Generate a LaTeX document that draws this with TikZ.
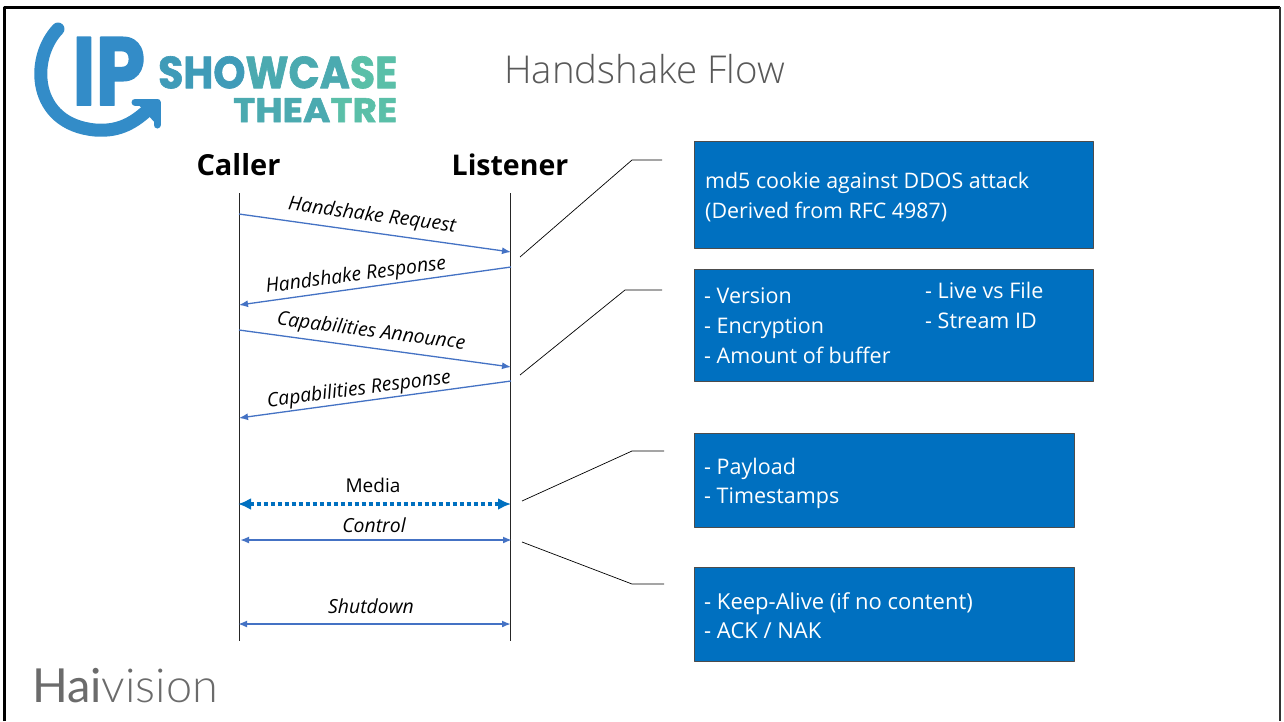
\documentclass[tikz,border=0pt]{standalone}
\usepackage{fontspec}
\usepackage{graphicx}
\usetikzlibrary{arrows.meta}
\setmainfont{Open Sans}
\newfontfamily\logofont[BoldFeatures={FakeBold=1.5}]{Poppins}
\newfontfamily\haifont{Lato}
\newfontfamily\hailight{Lato Light}
\newfontfamily\titlefont{Open Sans Light}
\definecolor{boxblue}{HTML}{0070C0}
\definecolor{flowblue}{HTML}{4472C4}
\definecolor{titlegrey}{HTML}{595959}
\definecolor{logoblue}{HTML}{338CC8}
\definecolor{logoa}{HTML}{3F9BB8}
\definecolor{logob}{HTML}{4BAAB0}
\definecolor{logoc}{HTML}{5ABFA8}
\tikzset{
  infobox/.style={draw=black!70, line width=0.5pt, fill=boxblue, anchor=north west, inner sep=0pt},
  boxtext/.style={anchor=north west, text=white, align=left, inner sep=0pt, font=\fontsize{21.5}{30}\selectfont},
  flowlabel/.style={font=\fontsize{19.4}{22}\selectfont\itshape},
  flowarrow/.style={flowblue, line width=1.3pt, -{Latex[length=9pt,width=7pt]}},
  bothway/.style={flowblue, line width=1.8pt, {Latex[length=9pt,width=7pt]}-{Latex[length=9pt,width=7pt]}},
  lifeline/.style={black!85, line width=1pt},
  callout/.style={black, line width=0.7pt}
}
\begin{document}
\begin{tikzpicture}[x=1pt, y=-1pt, line join = round]
\useasboundingbox (0,0) rectangle (1284,721);
\fill[white] (0,0) rectangle (1284,721);
\draw[line width=3pt] (4.5,721) -- (4.5,7) -- (1280,7);
\draw[line width=2pt, black!80] (1280,7) -- (1280,721);

% logo
\draw[logoblue, line width=13pt, line cap=round] (58,29) .. controls (30,58) and (32,124) .. (95,130) .. controls (120,132) and (135,122) .. (150,108);
\draw[logoblue, line width=7pt, line cap=round] (135,102) -- (157,102) -- (157,125);
\fill[logoblue] (157,102) -- (157,125) -- (136,102) -- cycle;
\node[inner sep=0pt, anchor=north west, text=logoblue] (ip) at (72,37) {\resizebox{73pt}{68pt}{\logofont\bfseries IP}};
\node[inner sep=0pt, anchor=north west, text=logoa] (showcase) at (158,56) {\resizebox{239pt}{32pt}{\logofont\bfseries S\textcolor{logoa}{HO}\textcolor{logob}{WC}\textcolor{logob}{A}\textcolor{logoc}{SE}}};
\node[inner sep=0pt, anchor=north west, text=logob] (theatre) at (233,98) {\resizebox{164pt}{24pt}{\logofont\bfseries TH\textcolor{logob}{EA}\textcolor{logoc}{TRE}}};

% title
\node[anchor=west, inner sep=0pt, text=titlegrey] (title) at (504,69) {\fontsize{38.4}{42}\selectfont\titlefont Handshake Flow};

% lifelines
\node[font=\fontsize{29}{32}\selectfont\bfseries] (caller) at (238.5,165) {Caller};
\node[font=\fontsize{28.5}{32}\selectfont\bfseries] (listener) at (510,165) {Listener};
\coordinate (C0) at (239,193);
\coordinate (C1) at (239,641);
\coordinate (L0) at (510,193);
\coordinate (L1) at (510,641);
\draw[lifeline] (C0)--(C1);
\draw[lifeline] (L0)--(L1);

% messages
\coordinate (a1) at (239,214);
\coordinate (b1) at (511,252);
\coordinate (b2) at (511,267);
\coordinate (a2) at (239,305);
\coordinate (a3) at (239,330);
\coordinate (b3) at (511,367);
\coordinate (b4) at (511,381);
\coordinate (a4) at (239,418);
\draw[flowarrow] (a1)--(b1);
\draw[flowarrow] (b2)--(a2);
\draw[flowarrow] (a3)--(b3);
\draw[flowarrow] (b4)--(a4);
\node[flowlabel, rotate=-7.5] (hsreq) at (372,216) {Handshake Request};
\node[flowlabel, rotate=7.5] (hsres) at (356,276) {Handshake Response};
\node[flowlabel, rotate=-7.5] (capann) at (371,332) {Capabilities Announce};
\node[flowlabel, rotate=7.5] (capres) at (359,390) {Capabilities Response};

\coordinate (a5) at (238,504);
\coordinate (b5) at (511,504);
\coordinate (a6) at (240,540);
\coordinate (b6) at (512,540);
\coordinate (a7) at (238,624);
\coordinate (b7) at (511,624);
\draw[boxblue, line width=3.5pt, dash pattern=on 4.5pt off 2.5pt, {Latex[length=13pt,width=12pt]}-{Latex[length=13pt,width=12pt]}] (a5)--(b5);
\draw[bothway] (a6)--(b6);
\draw[bothway] (a7)--(b7);
\node[font=\fontsize{19}{22}\selectfont] (media) at (373,485) {Media};
\node[flowlabel] (control) at (374,525) {Control};
\node[flowlabel] (shutdown) at (371,606) {Shutdown};

% boxes
\node[infobox, minimum width=399pt, minimum height=106.5pt] (cookie) at (694,141) {};
\node[boxtext, font=\fontsize{21.4}{30}\selectfont] (cookietext) at (705,172) {md5 cookie against DDOS attack\\(Derived from RFC 4987)};
\node[infobox, minimum width=399pt, minimum height=111.5pt] (caps) at (694,269) {};
\node[boxtext] (capsl) at (704,288) {- Version\\- Encryption\\- Amount of buffer};
\node[boxtext] (capsr) at (925,282) {- Live vs File\\- Stream ID};
\node[infobox, minimum width=380pt, minimum height=93.5pt] (mediabox) at (694,433) {};
\node[boxtext, font=\fontsize{21.5}{29}\selectfont] (mediatext) at (704,458) {- Payload\\- Timestamps};
\node[infobox, minimum width=380pt, minimum height=93.5pt] (alivebox) at (694,567) {};
\node[boxtext, font=\fontsize{22}{29}\selectfont] (alivetext) at (704,592) {- Keep-Alive (if no content)\\- ACK / NAK};

% callouts
\coordinate (p1) at (520,257);
\coordinate (q1) at (632,160);
\coordinate (r1) at (662,160);
\coordinate (p2) at (520,375);
\coordinate (q2) at (625,290);
\coordinate (r2) at (662,290);
\coordinate (p3) at (522,501);
\coordinate (q3) at (632,451);
\coordinate (r3) at (664,451);
\coordinate (p4) at (522,542);
\coordinate (q4) at (632,584);
\coordinate (r4) at (664,584);
\foreach \i in {1,2,3,4}
    \draw[callout] (p\i)--(q\i)--(r\i);

% footer
\node[anchor=west, inner sep=0pt, text=black!58] (haivision) at (32,686) {\resizebox{186pt}{!}{\haifont Hai\hailight vision}};
\end{tikzpicture}
\end{document}
